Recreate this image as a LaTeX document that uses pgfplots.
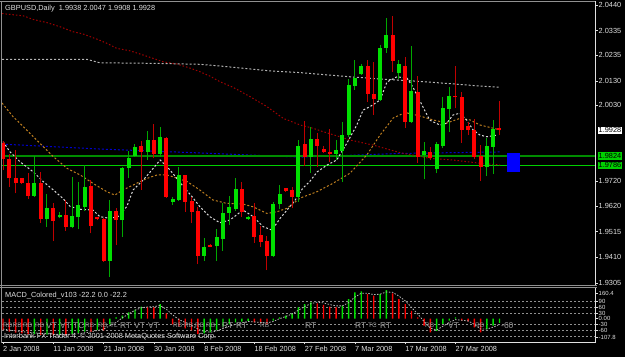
\documentclass[border=0pt]{standalone}
\usepackage{pgfplots}
\pgfplotsset{compat=1.18}
\usepackage{pgfplotstable}
\usepackage{fontspec}
\setmainfont{Liberation Sans}
\newcommand\sm{\fontsize{7.4}{8}\selectfont}
\newcommand\xs{\fontsize{6}{6.5}\selectfont}
\definecolor{bodyup}{HTML}{00E000}
\definecolor{bodydn}{HTML}{FF0000}
\definecolor{wickup}{HTML}{00A800}
\definecolor{wickdn}{HTML}{C00000}
\definecolor{maRed}{HTML}{A00000}
\definecolor{maGrey}{HTML}{B4B4B4}
\definecolor{maOrange}{HTML}{C08020}
\definecolor{maWhite}{HTML}{D8D8D8}
\definecolor{maBlue}{HTML}{0000D0}
\definecolor{lnDark}{HTML}{008C00}
\definecolor{lnBright}{HTML}{00D000}
\definecolor{boxGreen}{HTML}{00D000}
\definecolor{txt}{HTML}{E0E0E0}
\definecolor{frame}{HTML}{909090}
\definecolor{patt}{HTML}{9A9A9A}

% up candles: index open high low close
\pgfplotstableread{
i o h l c
5 1.9661 1.9823 1.9657 1.9712
7 1.9565 1.9667 1.9535 1.9610
9 1.9573 1.9594 1.9569 1.9583
11 1.9532 1.9739 1.9528 1.9579
12 1.9573 1.9719 1.9524 1.9623
13 1.9616 1.9787 1.9599 1.9696
17 1.9396 1.9644 1.9331 1.9600
19 1.9562 1.9777 1.9494 1.9773
20 1.9776 1.9844 1.9732 1.9814
21 1.9823 1.9872 1.9821 1.9859
23 1.9841 1.9926 1.9807 1.9889
25 1.9832 1.9943 1.9821 1.9900
27 1.9636 1.9655 1.9623 1.9648
28 1.9644 1.9780 1.9641 1.9746
32 1.9416 1.9487 1.9396 1.9453
34 1.9457 1.9525 1.9396 1.9492
35 1.9485 1.9630 1.9437 1.9590
36 1.9592 1.9660 1.9542 1.9615
37 1.9608 1.9734 1.9600 1.9689
39 1.9565 1.9579 1.9562 1.9576
43 1.9415 1.9637 1.9412 1.9627
44 1.9626 1.9705 1.9606 1.9667
47 1.9655 1.9889 1.9637 1.9866
49 1.9821 1.9943 1.9754 1.9892
53 1.9832 1.9887 1.9807 1.9848
54 1.9845 1.9961 1.9717 1.9909
55 1.9909 2.0138 1.9902 2.0113
56 2.0110 2.0215 2.0093 2.0143
57 2.0158 2.0199 2.0154 2.0191
60 2.0052 2.0277 2.0049 2.0263
61 2.0266 2.0386 2.0245 2.0318
63 2.0161 2.0215 2.0137 2.0198
65 1.9963 2.0273 1.9960 2.0089
67 1.9828 1.9879 1.9728 1.9844
69 1.9770 1.9882 1.9753 1.9871
70 1.9866 2.0066 1.9855 2.0021
71 2.0015 2.0106 1.9923 2.0068
77 1.9780 1.9896 1.9742 1.9864
78 1.9861 1.9970 1.9750 1.9934
}\upcandles

% down candles
\pgfplotstableread{
i o h l c
0 1.9875 1.9885 1.9766 1.9810
1 1.9811 1.9832 1.9698 1.9732
2 1.9734 1.9848 1.9671 1.9712
3 1.9732 1.9734 1.9709 1.9714
4 1.9712 1.9753 1.9647 1.9661
6 1.9712 1.9759 1.9549 1.9566
8 1.9610 1.9630 1.9476 1.9559
10 1.9583 1.9644 1.9518 1.9535
14 1.9701 1.9725 1.9508 1.9538
15 1.9573 1.9576 1.9562 1.9565
16 1.9565 1.9569 1.9392 1.9396
18 1.9600 1.9610 1.9460 1.9562
22 1.9864 1.9886 1.9685 1.9841
24 1.9889 1.9954 1.9814 1.9832
26 1.9899 1.9900 1.9652 1.9655
29 1.9745 1.9746 1.9596 1.9637
30 1.9641 1.9655 1.9549 1.9596
31 1.9600 1.9616 1.9382 1.9416
33 1.9460 1.9463 1.9451 1.9453
38 1.9689 1.9717 1.9576 1.9596
40 1.9579 1.9630 1.9469 1.9494
41 1.9501 1.9538 1.9451 1.9472
42 1.9476 1.9497 1.9358 1.9415
45 1.9692 1.9694 1.9678 1.9681
46 1.9685 1.9696 1.9610 1.9657
48 1.9871 1.9968 1.9783 1.9821
50 1.9891 1.9919 1.9780 1.9866
51 1.9854 1.9864 1.9835 1.9840
52 1.9841 1.9933 1.9799 1.9832
58 2.0191 2.0215 2.0045 2.0077
59 2.0075 2.0208 1.9991 2.0055
62 2.0318 2.0395 2.0168 2.0213
64 2.0191 2.0229 1.9939 1.9963
66 2.0083 2.0150 1.9796 1.9819
68 1.9839 1.9861 1.9807 1.9817
72 2.0070 2.0192 2.0018 2.0063
73 2.0066 2.0086 1.9878 1.9930
74 1.9947 1.9963 1.9909 1.9928
75 1.9930 1.9975 1.9810 1.9821
76 1.9823 1.9868 1.9721 1.9780
79 1.9938 2.0047 1.9908 1.9928
}\dncandles

% MACD histogram, rising bars
\pgfplotstableread{
i v
5 -80
7 -84
9 -86
11 -82
12 -76
13 -68
15 -60
17 -30
18 7
19 16
20 34
21 48
22 64
25 78
32 -78
33 -72
34 -60
35 -42
36 -30
37 -20
38 -16
39 -12
43 -10
44 7
45 16
46 28
47 60
48 78
49 87
54 69
55 104
56 140
57 145
60 131
61 152
69 -64
70 -28
71 -10
72 7
77 -55
78 -37
79 -22
}\macdup

% MACD histogram, falling bars
\pgfplotstableread{
i v
0 -60
1 -68
2 -74
3 -78
4 -82
6 -86
8 -88
10 -88
14 -70
16 -62
23 62
24 60
26 28
27 -30
28 -42
29 -52
30 -62
31 -80
40 -20
41 -25
42 -30
50 82
51 74
52 64
53 60
58 131
59 122
62 135
63 104
64 78
65 42
66 7
67 -37
68 -73
73 -10
74 -14
75 -46
76 -73
}\macddn

\begin{document}
\begin{tikzpicture}
\fill[black] (0bp,0bp) rectangle (625bp,357bp);
\useasboundingbox (0bp,0bp) rectangle (625bp,357bp);

% ---------------- main price panel ----------------
\begin{axis}[
  at={(2bp,72bp)}, anchor=south west, scale only axis,
  width=593bp, height=282bp,
  xmin=-0.16, xmax=94.2, ymin=1.92968, ymax=2.04482,
  axis line style={draw=none},
  clip mode=individual,
  xtick=\empty,
  ytick={2.0440,2.0335,2.0235,2.0130,2.0030,1.9720,1.9620,1.9515,1.9410,1.9305},
  yticklabels={2.0440,2.0335,2.0235,2.0130,2.0030,1.9720,1.9620,1.9515,1.9410,1.9305},
  ytick pos=right, tick align=outside, major tick length=2.5bp,
  tick style={draw=txt, line width=0.6bp},
  yticklabel style={font=\sm, text=txt, anchor=west, inner sep=0pt, xshift=1bp},
]
% horizontal levels and blue line
\addplot[maBlue, line width=1bp, dash pattern=on 2bp off 2bp] coordinates {(-0.16,1.9872) (15.4,1.9852) (31.3,1.9836) (47.3,1.9819) (63.2,1.9834) (79.1,1.9840)};
\addplot[lnDark, line width=2bp] coordinates {(-0.16,1.9824) (94.2,1.9824)};
\addplot[lnBright, line width=0.9bp] coordinates {(-0.16,1.9786) (94.2,1.9786)};
% future box
\addplot[fill=blue, draw=none] coordinates {(80.2,1.9759) (82.3,1.9759) (82.3,1.9837) (80.2,1.9837)};
% moving averages
\addplot[maRed, line width=1bp, dash pattern=on 1.5bp off 2bp] coordinates {(-0.16,2.0405) (3.2,2.0396) (4.8,2.0381) (7.0,2.0368) (9.1,2.0351) (11.1,2.0331) (12.7,2.0322) (15.0,2.0300) (16.5,2.0284) (18.1,2.0263) (20.2,2.0253) (21.8,2.0240) (23.9,2.0222) (25.5,2.0208) (27.7,2.0199) (29.8,2.0182) (31.3,2.0168) (32.9,2.0150) (34.5,2.0127) (36.6,2.0104) (39.3,2.0066) (42.0,2.0025) (44.6,1.9977) (47.3,1.9950) (49.3,1.9937) (50.9,1.9923) (53.6,1.9902) (55.2,1.9889) (58.9,1.9868) (63.2,1.9837) (67.9,1.9814) (71.6,1.9807) (75.9,1.9794) (79.1,1.9787)};
\addplot[maGrey, line width=1bp, dash pattern=on 2bp off 2bp] coordinates {(-0.16,2.0218) (13.4,2.0218) (15.4,2.0204) (23.4,2.0202) (31.3,2.0198) (34.5,2.0191) (39.3,2.0179) (42.5,2.0171) (47.3,2.0164) (50.0,2.0158) (55.2,2.0147) (60.0,2.0138) (65.2,2.0130) (70.6,2.0120) (75.9,2.0109) (79.1,2.0104)};
\addplot[maOrange, line width=1bp, dash pattern=on 2bp off 2bp] coordinates {(-0.16,2.0040) (1.6,1.9984) (2.7,1.9957) (5.9,1.9875) (8.0,1.9821) (10.2,1.9773) (12.3,1.9746) (14.3,1.9712) (16.5,1.9678) (17.8,1.9664) (19.1,1.9685) (20.7,1.9705) (22.9,1.9732) (24.5,1.9746) (26.1,1.9746) (27.0,1.9739) (29.3,1.9719) (31.3,1.9685) (33.4,1.9644) (35.6,1.9630) (38.2,1.9627) (39.8,1.9616) (42.0,1.9589) (43.6,1.9596) (45.2,1.9610) (47.3,1.9652) (50.0,1.9678) (52.5,1.9712) (55.2,1.9753) (57.9,1.9828) (60.0,1.9909) (62.1,1.9979) (64.0,2.0001) (66.3,1.9987) (68.4,1.9971) (70.6,1.9958) (72.7,1.9977) (74.3,1.9971) (75.9,1.9950) (78.0,1.9937) (79.1,1.9930)};
\addplot[maWhite, line width=1bp, dash pattern=on 2bp off 2bp] coordinates {(0,1.9882) (1.1,1.9841) (2.7,1.9800) (4.8,1.9759) (6.4,1.9719) (8.0,1.9685) (9.5,1.9651) (10.7,1.9617) (12.3,1.9606) (14.3,1.9603) (15.4,1.9576) (17.0,1.9569) (18.3,1.9576) (19.7,1.9617) (20.7,1.9685) (22.3,1.9725) (23.9,1.9773) (25.0,1.9807) (26.1,1.9780) (27.0,1.9753) (28.5,1.9705) (30.1,1.9657) (31.3,1.9617) (32.9,1.9576) (34.5,1.9551) (36.1,1.9562) (38.2,1.9603) (39.8,1.9576) (41.4,1.9535) (42.8,1.9521) (44.1,1.9569) (45.2,1.9603) (46.5,1.9644) (47.7,1.9692) (48.8,1.9719) (50.0,1.9759) (51.6,1.9787) (53.1,1.9807) (54.7,1.9875) (56.3,1.9950) (57.3,2.0011) (58.4,2.0025) (60.0,2.0052) (61.1,2.0126) (62.7,2.0147) (64.3,2.0141) (65.2,2.0106) (66.8,2.0025) (67.9,1.9970) (69.5,1.9950) (70.6,1.9957) (71.6,1.9991) (72.7,1.9998) (73.8,1.9970) (74.8,1.9930) (75.9,1.9909) (77.0,1.9902) (78.6,1.9909)};
% wicks
\addplot[draw=none, mark=none, error bars/.cd, y dir=plus, y explicit, error mark=none,
  error bar style={draw=wickup, line width=1bp}]
  table[x=i, y=l, y error plus expr=\thisrow{h}-\thisrow{l}] {\upcandles};
\addplot[draw=none, mark=none, error bars/.cd, y dir=plus, y explicit, error mark=none,
  error bar style={draw=wickdn, line width=1bp}]
  table[x=i, y=l, y error plus expr=\thisrow{h}-\thisrow{l}] {\dncandles};
% bodies
\addplot[draw=none, mark=none, error bars/.cd, y dir=plus, y explicit, error mark=none,
  error bar style={draw=bodyup, line width=4bp}]
  table[x=i, y=o, y error plus expr=\thisrow{c}-\thisrow{o}] {\upcandles};
\addplot[draw=none, mark=none, error bars/.cd, y dir=plus, y explicit, error mark=none,
  error bar style={draw=bodydn, line width=4bp}]
  table[x=i, y=c, y error plus expr=\thisrow{o}-\thisrow{c}] {\dncandles};
% price boxes
\node[anchor=west, fill=white, text=black, font=\sm, inner xsep=1bp, inner ysep=0.8bp, text height=5.4bp, text depth=0.3bp, xshift=2.5bp] at (axis cs:94.2,1.9928) {1.9928};
\node[anchor=west, fill=boxGreen, text=black, font=\sm, inner xsep=1bp, inner ysep=0.8bp, text height=5.4bp, text depth=0.3bp, xshift=2.5bp] at (axis cs:94.2,1.9824) {1.9824};
\node[anchor=west, fill=boxGreen, text=black, font=\sm, inner xsep=1bp, inner ysep=0.8bp, text height=5.4bp, text depth=0.3bp, xshift=2.5bp] at (axis cs:94.2,1.9786) {1.9786};
\end{axis}

% ---------------- MACD panel ----------------
\begin{axis}[
  at={(2bp,15bp)}, anchor=south west, scale only axis,
  width=593bp, height=54bp,
  xmin=-0.16, xmax=94.2, ymin=-123.7, ymax=163,
  axis line style={draw=none},
  clip mode=individual,
  xtick={0,8,16,24,32,40,48,56,64,72},
  xticklabels={2 Jan 2008,11 Jan 2008,21 Jan 2008,30 Jan 2008,8 Feb 2008,18 Feb 2008,27 Feb 2008,7 Mar 2008,17 Mar 2008,27 Mar 2008},
  xtick pos=bottom,
  ytick={136.5,90,60,30,0,-30,-60,-99},
  yticklabels={160.4,90,60,30,0.00,-30,-60,-107.8},
  ytick pos=right, tick align=outside, major tick length=2.5bp,
  tick style={draw=txt, line width=0.6bp},
  yticklabel style={font=\xs, text=txt, anchor=west, inner sep=0pt, xshift=1bp},
  xticklabel style={font=\sm, text=txt, anchor=north west, inner sep=0pt, xshift=0bp, yshift=-1.5bp},
]
\foreach \lv in {90,60,30,-30,-60,-95}{
  \edef\tmp{\noexpand\draw[frame, line width=0.6bp, dash pattern=on 2bp off 2bp] (axis cs:-0.16,\lv) -- (axis cs:94.2,\lv);}\tmp
}
\addplot[ybar, bar width=1.4bp, bar shift=0pt, draw=none, fill=bodyup] table[x=i, y=v] {\macdup};
\addplot[ybar, bar width=1.4bp, bar shift=0pt, draw=none, fill=bodydn] table[x=i, y=v] {\macddn};
\addplot[maGrey, line width=0.8bp, dash pattern=on 1.5bp off 1.5bp] coordinates {(0,-55) (2,-65) (4,-72) (6,-78) (8,-82) (10,-84) (12,-80) (14,-70) (16,-55) (18,-20) (19,5) (20,25) (21,45) (22,58) (23,62) (24,64) (25,70) (26,50) (27,20) (28,-5) (29,-20) (30,-35) (31,-55) (32,-68) (33,-72) (34,-65) (35,-52) (36,-40) (37,-30) (38,-22) (39,-15) (40,-17) (41,-20) (42,-22) (43,-15) (44,0) (45,12) (46,25) (47,45) (48,65) (49,80) (50,88) (51,84) (52,75) (53,68) (54,68) (55,85) (56,115) (57,135) (58,135) (59,128) (60,130) (61,142) (62,140) (63,120) (64,95) (65,60) (66,25) (67,-15) (68,-50) (69,-60) (70,-40) (71,-20) (72,-5) (73,-8) (74,-12) (75,-30) (76,-55) (77,-55) (78,-45) (79,-30)};
\end{axis}

% ---------------- frames ----------------
\draw[frame, line width=1.5bp] (0bp,355.6bp) -- (595bp,355.6bp);
\draw[frame, line width=1.2bp] (1.2bp,14bp) -- (1.2bp,356bp);
\draw[txt, line width=0.8bp] (595bp,72bp) -- (595bp,356bp);
\draw[frame, line width=1bp] (0bp,71.8bp) -- (597bp,71.8bp);
\draw[frame, line width=1bp] (0bp,69.2bp) -- (597bp,69.2bp);
\draw[txt, line width=0.8bp] (2bp,15bp) -- (595bp,15bp) -- (595bp,69bp);

% ---------------- texts ----------------
\node[anchor=west, inner sep=0pt, font=\sm, text=txt] at (5bp,348.7bp) {GBPUSD,Daily\ \ 1.9938 2.0047 1.9908 1.9928};
\node[anchor=west, inner sep=0pt, font=\sm, text=txt] at (5bp,61.3bp) {MACD\_Colored\_v103 -22.2 0.0 -22.2};
\node[anchor=west, inner sep=0pt, font=\sm, text=txt] at (4bp,20.3bp) {Interbank FX Trader 4, © 2001-2008 MetaQuotes Software Corp.};
% pattern labels of the MACD indicator
\begin{scope}[every node/.style={anchor=west, inner sep=0pt, text=patt, font=\fontsize{6.5}{7}\selectfont}]
\node at (3bp,31.5bp) {RB};
\node at (12.5bp,31.5bp) {RB};
\node at (23bp,31.5bp) {RB};
\node at (35bp,31.5bp) {RB};
\node at (85bp,31.5bp) {RB};
\node at (98bp,31.5bp) {RB};
\node at (110bp,31.5bp) {TL};
\node at (173bp,31.5bp) {RB};
\node at (184bp,31.5bp) {RB};
\node at (195bp,31.5bp) {RB};
\node at (206bp,31.5bp) {RB};
\node at (260bp,31.5bp) {RB};
\node at (368bp,31.5bp) {TC};
\node at (425bp,31.5bp) {RB};
\node at (475bp,31.5bp) {RB};
\end{scope}
\begin{scope}[every node/.style={anchor=west, inner sep=0pt, text=patt, font=\fontsize{8.5}{9}\selectfont}]
\node at (46bp,31.5bp) {VT};
\node at (60bp,31.5bp) {VT};
\node at (73bp,31.5bp) {TC};
\node at (120bp,31.5bp) {RT};
\node at (134bp,31.5bp) {VT};
\node at (148bp,31.5bp) {VT};
\node at (222bp,31.5bp) {RT};
\node at (236bp,31.5bp) {RT};
\node at (305bp,31.5bp) {RT};
\node at (355bp,31.5bp) {RT};
\node at (380bp,31.5bp) {RT};
\node at (448bp,31.5bp) {VT};
\node at (501bp,31.5bp) {-60};
\end{scope}
\end{tikzpicture}
\end{document}
